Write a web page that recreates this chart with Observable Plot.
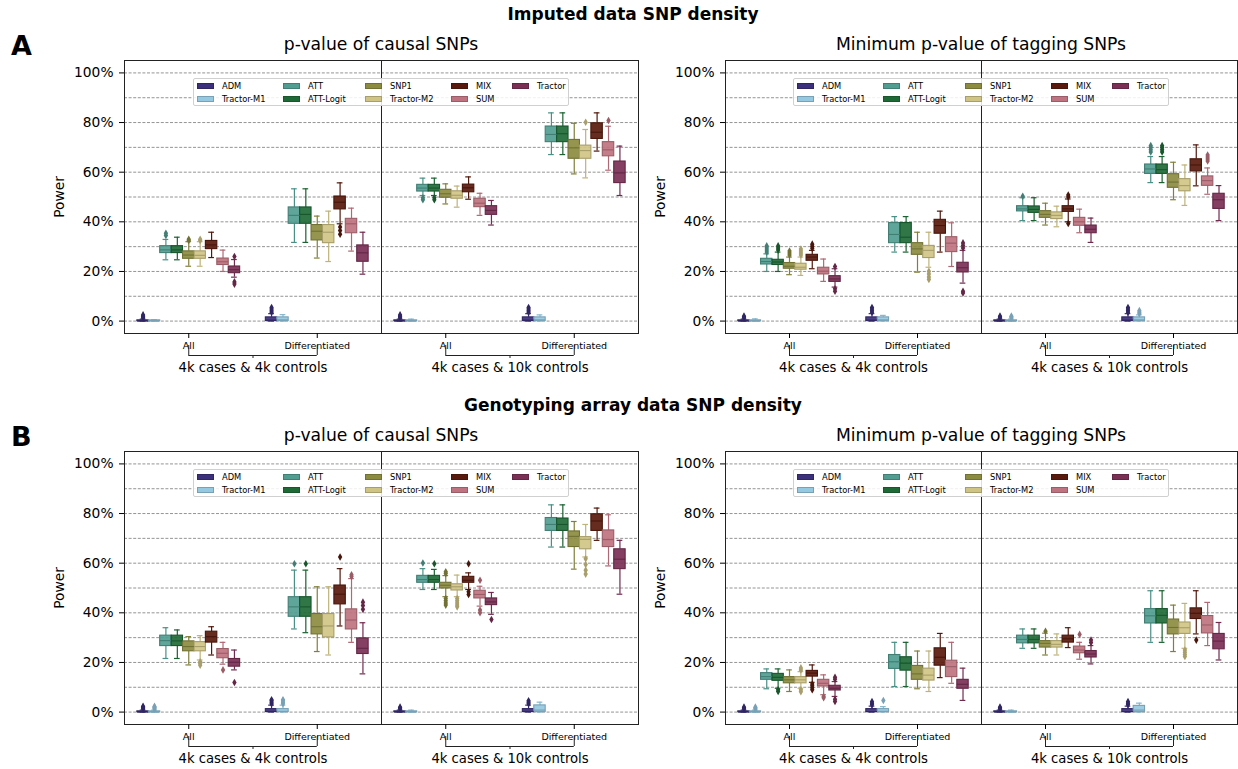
<!DOCTYPE html>
<html><head><meta charset="utf-8">
<script src="https://cdn.jsdelivr.net/npm/d3@7"></script>
<script src="https://cdn.jsdelivr.net/npm/@observablehq/plot@0.6"></script>
<style>
body{margin:0;background:#fff;font-family:"DejaVu Sans",sans-serif;color:#000;}
#root{position:relative;width:1238px;height:769px;overflow:hidden;background:#fff;}
.abs{position:absolute;white-space:nowrap;line-height:1;}
.sup{font-weight:bold;font-size:17px;transform:translate(-50%,-50%);}
.tag{font-weight:bold;font-size:27px;transform:translate(0,-50%);}
.ttl{font-size:17.2px;transform:translate(-50%,-50%);}
.leg{position:absolute;width:376px;height:28px;border:1px solid #d0d0d0;border-radius:2px;background:rgba(255,255,255,0.85);box-sizing:border-box;}
.leg .p{position:absolute;width:17px;height:6px;box-sizing:border-box;}
.leg .t{position:absolute;font-size:8.3px;line-height:1;transform:translateY(-50%);}
svg{position:absolute;overflow:visible;}
</style></head><body><div id="root"></div><script>
// ---------- data ----------
const methods = ["ADM","Tractor-M1","ATT","ATT-Logit","SNP1","Tractor-M2","MIX","SUM","Tractor"];
const baseColors = ["#332288","#88CCEE","#44AA99","#117733","#999933","#DDCC77","#661100","#CC6677","#882255"];
const groups = ["All","Differentiated"];
const sizes = ["4k cases & 4k controls","4k cases & 10k controls"];
const yTicks = [0,0.2,0.4,0.6,0.8,1.0];
const gridTicks = [0,0.1,0.2,0.3,0.4,0.5,0.6,0.7,0.8,0.9,1.0];
const sectionTitles = ["Imputed data SNP density","Genotyping array data SNP density"];
const panelTitles = ["p-value of causal SNPs","Minimum p-value of tagging SNPs"];
const tags = ["A","B"];
// each row: [whiskerLow, q1, median, q3, whiskerHigh, outliers] in %
// groups: 4k/4k All, 4k/4k Differentiated, 4k/10k All, 4k/10k Differentiated
const imputedCausal = [
 [[0,0,0,0.3,0.8,[1.2,1.6,2.0,2.5]],[0,0,0,0.3,0.6,[]],[24.7,27.4,28.7,30.2,32.9,[34.5,35.4]],[24.7,27.4,28.7,30.2,33.8,[]],[22.1,25.1,26.6,28.1,32.0,[32.5,33.0]],[22.1,25.1,26.5,28.1,32.0,[32.5,33.0]],[25.6,29.0,30.7,32.3,35.8,[]],[20.0,22.6,23.9,25.2,28.6,[]],[17.7,19.3,20.7,22.0,24.8,[26.0,15.8,14.9]]],
 [[0,0,0.4,1.5,3.0,[3.6,4.2,4.9,5.5]],[0,0,0.5,1.5,2.6,[]],[31.7,39.2,42.6,45.8,53.3,[]],[31.7,39.2,43.0,45.8,53.3,[]],[25.4,32.5,36.2,38.7,42.3,[]],[24.0,31.4,35.8,38.7,44.3,[]],[39.2,45.0,47.9,50.2,55.7,[37.9,36.5,35.0]],[28.2,35.4,39.2,41.2,45.5,[]],[18.9,23.9,27.5,30.5,35.8,[]]],
 [[0,0,0,0.3,0.8,[1.2,1.6,2.0,2.5]],[0,0,0,0.3,0.8,[]],[50.6,52.2,53.6,54.9,57.6,[49.7,48.9]],[50.6,52.2,53.6,54.9,57.6,[49.7,48.9]],[47.2,49.7,51.3,52.9,55.3,[]],[45.9,49.3,50.7,52.3,54.4,[]],[49.1,51.9,53.7,55.0,58.1,[]],[42.6,45.9,47.5,49.3,51.5,[]],[38.7,42.8,44.6,46.3,48.6,[]]],
 [[0,0,0.4,1.5,3.0,[3.6,4.2,4.9,5.5]],[0,0,0.5,1.5,2.5,[]],[67.1,72.1,75.2,78.4,83.9,[]],[67.1,72.1,75.5,78.4,83.9,[]],[59.3,65.4,69.8,73.0,79.7,[]],[57.7,65.4,68.7,70.7,77.2,[80.1]],[68.5,73.4,76.1,79.7,83.9,[]],[60.8,66.4,69.0,72.1,78.5,[80.8]],[50.6,55.6,59.7,64.3,70.5,[]]]
];
const imputedTagging = [
 [[0,0,0,0.3,0.8,[1.2,1.6,2.0]],[0,0,0,0.3,0.9,[]],[20.0,22.8,24.0,25.1,27.1,[27.8,28.6,29.5,30.3]],[20.0,22.6,23.8,24.7,27.8,[28.6,29.5,30.3]],[18.7,21.1,22.1,23.4,25.8,[26.6,27.4,28.2]],[18.4,20.7,21.7,23.1,25.8,[26.6,27.4,28.2,29.0]],[21.1,24.3,25.8,26.7,28.5,[29.3,30.2,31.0]],[16.0,18.8,20.1,21.5,25.0,[]],[13.7,15.8,17.0,18.1,21.1,[22.0,13.0,12.0]]],
 [[0,0,0.4,1.5,3.0,[3.6,4.2,4.9,5.5]],[0,0,0.5,1.5,2.3,[]],[27.8,31.4,34.9,39.5,42.1,[]],[27.8,31.4,33.8,39.5,42.1,[]],[19.7,26.7,29.1,31.4,35.8,[]],[21.7,25.4,28.5,30.3,35.8,[20.1,19.0,17.8,16.8]],[27.8,35.2,38.5,40.8,44.3,[]],[22.0,27.8,31.4,33.8,39.6,[]],[15.3,19.6,21.5,23.5,28.5,[29.5,30.5,31.5,12.0,11.3]]],
 [[0,0,0,0.3,0.8,[1.2,1.6,2.0]],[0,0,0,0.3,0.8,[1.2,1.6,2.0]],[40.5,44.2,45.2,46.3,49.7,[50.3]],[40.5,43.6,45.0,46.2,49.7,[]],[38.7,41.6,43.0,44.3,47.5,[]],[38.0,41.1,42.6,43.8,46.3,[]],[40.0,44.0,45.2,46.3,49.2,[50.0,50.8,39.3]],[35.6,38.4,40.0,41.6,45.1,[]],[31.7,35.4,37.0,38.5,41.5,[]]],
 [[0,0,0.4,1.5,3.0,[3.6,4.2,4.9,5.5]],[0,0,0.5,1.5,2.5,[3.0,3.6,4.2]],[55.8,59.3,61.3,63.1,66.3,[68.1,69.0,69.9,70.7]],[55.8,59.3,61.0,63.1,66.3,[68.1,69.0,69.9,70.7]],[48.9,53.7,56.0,59.2,64.0,[]],[46.6,52.3,54.6,57.2,62.9,[]],[54.5,60.3,62.9,65.2,71.0,[]],[51.1,54.5,56.6,58.3,61.7,[64.5,65.3,66.1,66.9]],[40.5,45.2,48.9,51.3,54.6,[]]]
];
const arrayCausal = [
 [[0,0,0,0.3,0.8,[1.2,1.6,2.0,2.3]],[0,0,0,0.3,0.8,[1.2,1.6,2.0,2.3]],[21.6,26.6,28.8,30.8,34.0,[]],[21.6,26.6,28.7,30.8,33.1,[]],[19.0,24.5,26.4,28.5,30.4,[]],[21.0,24.5,26.4,28.2,30.8,[20.3,19.6,18.9]],[23.0,28.0,30.4,32.4,34.4,[]],[19.3,21.7,23.7,25.4,28.1,[17.0]],[17.0,18.3,20.1,21.4,25.0,[11.9]]],
 [[0,0,0.3,1.2,2.8,[3.4,4.0,4.6,5.0]],[0,0,0.3,1.2,2.8,[3.4,4.0,4.6,5.0]],[33.5,38.4,42.4,46.3,57.2,[59.8]],[32.0,38.4,42.4,46.3,57.2,[59.8]],[24.4,31.3,34.4,39.5,50.5,[]],[23.0,30.1,34.7,39.5,50.5,[]],[34.7,43.4,47.5,51.0,57.8,[62.5]],[28.1,33.3,37.1,41.4,53.8,[54.6,55.3]],[15.4,23.4,25.7,29.7,36.0,[41.4,42.9,44.3]]],
 [[0,0,0,0.3,0.8,[1.2,1.6,2.0]],[0,0,0,0.3,0.8,[]],[49.4,52.1,53.4,54.9,57.8,[60.1]],[49.4,52.1,53.4,54.9,57.5,[59.8]],[46.5,49.8,51.1,52.1,55.0,[55.8,56.5,45.8,44.9,44.0,43.1]],[46.5,49.0,50.5,51.5,55.2,[45.8,44.9,44.0,43.1,42.4]],[49.4,52.1,53.1,54.5,56.1,[59.8,48.5,47.4]],[42.7,45.8,47.4,48.9,50.7,[53.1,41.1,40.0]],[39.4,43.1,44.4,45.8,48.2,[37.3]]],
 [[0,0,0.3,1.2,2.8,[3.4,4.0,4.6]],[0,0,0.8,2.7,4.0,[]],[66.5,73.0,75.6,78.2,83.5,[]],[66.5,73.0,75.6,78.0,83.5,[]],[57.6,66.5,70.8,72.8,76.8,[]],[62.5,65.6,69.6,70.5,75.6,[61.8,59.5,57.2,55.6]],[69.2,73.0,77.0,79.7,82.2,[]],[58.9,66.5,69.5,73.2,79.5,[]],[47.5,57.6,61.6,65.6,69.2,[]]]
];
const arrayTagging = [
 [[0,0,0,0.3,0.8,[1.2,1.6,2.0]],[0,0,0,0.3,0.8,[1.2,1.6,2.0]],[9.4,13.0,14.3,15.7,17.4,[]],[9.6,12.6,14.0,15.4,17.4,[9.0,8.3]],[8.3,11.6,13.0,14.1,17.0,[]],[9.6,11.6,13.0,14.1,16.3,[17.0,17.8,9.0,8.2]],[12.0,14.3,15.7,16.6,19.0,[11.3,10.6,9.8,9.0]],[7.0,10.3,11.6,13.0,15.0,[6.3,5.8]],[6.3,8.7,9.6,10.6,12.3,[13.2,14.0,5.2,4.3]]],
 [[0,0,0.2,1.2,2.4,[3.0,3.6,4.2]],[0,0,0.3,1.2,2.2,[4.7]],[10.3,17.4,20.3,23.0,28.1,[]],[10.3,16.7,19.7,22.1,28.1,[]],[9.4,13.0,15.4,18.6,24.6,[]],[8.3,12.7,14.9,17.5,24.6,[]],[13.9,18.7,22.1,25.7,31.7,[]],[11.6,14.1,18.3,20.7,28.1,[]],[4.7,9.4,11.2,13.0,17.7,[]]],
 [[0,0,0,0.3,0.8,[1.2,1.6,2.0]],[0,0,0,0.3,0.8,[]],[25.7,27.7,29.3,30.8,33.5,[]],[25.7,27.7,29.3,30.8,33.5,[]],[23.0,26.0,27.7,28.6,31.8,[32.6]],[23.0,26.0,27.3,28.6,31.5,[]],[26.0,28.0,29.5,30.8,34.0,[]],[21.3,23.7,25.0,26.4,28.1,[31.3]],[19.4,22.0,23.4,24.6,26.8,[28.0,29.0]]],
 [[0,0,0.2,1.2,2.4,[3.0,3.6,4.2]],[0,0,0.8,2.5,3.6,[]],[28.1,35.7,38.8,41.5,48.9,[]],[28.1,35.7,39.0,41.5,48.9,[]],[24.4,31.3,34.1,37.3,43.1,[]],[25.7,31.5,34.0,36.1,43.8,[25.0,24.1,23.2,22.4]],[31.5,37.5,39.8,41.8,48.9,[29.0]],[26.8,31.7,35.1,38.7,44.2,[]],[21.0,25.3,28.6,31.5,36.1,[]]]
];

// ---------- styling helpers ----------
const desat = c => { const h = d3.hsl(c); h.s *= 0.75; return h.formatHex(); };
const fills = baseColors.map(desat);
const edges = fills.map(c => d3.color(c).darker(0.6).formatHex());
const whisk = fills.map(c => d3.color(c).darker(0.25).formatHex());
const yDomain = [-0.05, 1.05];
const MT = 10, FH = 273, MB = 50, H = MT + FH + MB;
const slot = 0.8 / methods.length;

function flatten(panel) {
  const out = [];
  panel.forEach((grp, k) => {
    const size = sizes[Math.floor(k / 2)], gi = k % 2;
    grp.forEach((r, mi) => {
      const x1 = gi + 0.1 + mi * slot;
      out.push({size, gi, mi, x1, x2: x1 + slot, xc: x1 + slot / 2,
        wlo: r[0] / 100, q1: r[1] / 100, med: r[2] / 100, q3: r[3] / 100, whi: r[4] / 100,
        outs: r[5].map(v => v / 100)});
    });
  });
  return out;
}

function drawPanel(panel, left, top, width, mL, mR) {
  const B = flatten(panel);
  const O = B.flatMap(b => b.outs.map(v => ({...b, v})));
  const fxo = {fx: d => d};
  const svg = Plot.plot({
    width, height: H, marginLeft: mL, marginRight: mR, marginTop: MT, marginBottom: MB,
    style: {fontFamily: "DejaVu Sans, sans-serif", fontSize: "13.5px", color: "#000", background: "transparent", overflow: "visible"},
    x: {domain: [0, 2]},
    y: {domain: yDomain},
    fx: {domain: sizes, padding: 0, axis: null},
    color: {type: "identity"},
    marks: [
      Plot.gridY(gridTicks, {stroke: "#7a7a7a", strokeOpacity: 1, strokeWidth: 0.8, strokeDasharray: "3,1.6"}),
      Plot.ruleX(B, {fx: "size", x: "xc", y1: "wlo", y2: "q1", stroke: d => whisk[d.mi], strokeWidth: 1.2}),
      Plot.ruleX(B, {fx: "size", x: "xc", y1: "q3", y2: "whi", stroke: d => whisk[d.mi], strokeWidth: 1.2}),
      Plot.ruleY(B, {fx: "size", y: "wlo", x1: d => d.xc - slot / 4, x2: d => d.xc + slot / 4, stroke: d => whisk[d.mi], strokeWidth: 1.2}),
      Plot.ruleY(B, {fx: "size", y: "whi", x1: d => d.xc - slot / 4, x2: d => d.xc + slot / 4, stroke: d => whisk[d.mi], strokeWidth: 1.2}),
      Plot.rect(B, {fx: "size", x1: "x1", x2: "x2", y1: "q1", y2: "q3", fill: d => fills[d.mi], fillOpacity: 0.92, stroke: d => edges[d.mi], strokeWidth: 1.1}),
      Plot.ruleY(B, {fx: "size", y: "med", x1: "x1", x2: "x2", stroke: d => edges[d.mi], strokeWidth: 1.1}),
      Plot.dot(O, {fx: "size", x: "xc", y: "v", symbol: "diamond", r: 2.3, fill: d => edges[d.mi], stroke: "none"}),
      Plot.frame({stroke: "#222", strokeWidth: 1}),
      Plot.axisY({ticks: yTicks, tickFormat: d => Math.round(d * 100) + "%", tickSize: 5, tickPadding: 6, fontSize: 13.8,
        label: "Power", labelAnchor: "center", labelArrow: "none", labelOffset: 70, facetAnchor: "left"}),
      Plot.axisX({ticks: [0.5, 1.5], tickFormat: d => groups[Math.floor(d)], tickSize: 5, tickPadding: 4, fontSize: 9.5,
        label: null, facetAnchor: "bottom"}),
      Plot.ruleY(sizes, {...fxo, x1: () => 0.5, x2: () => 1.5, y: () => yDomain[0], dy: 22, stroke: "#222", strokeWidth: 1}),
      Plot.ruleX(sizes.flatMap(s => [0.5, 1.5].map(x => ({s, x}))), {fx: "s", x: "x", insetTop: FH + 12, insetBottom: -22, stroke: "#222", strokeWidth: 1}),
      Plot.ruleX(sizes, {...fxo, x: () => 1, insetTop: FH + 22, insetBottom: -25, stroke: "#222", strokeWidth: 1}),
      Plot.text(sizes, {...fxo, x: () => 1, text: d => d, frameAnchor: "bottom", dy: 34, lineAnchor: "middle", fontSize: 13.2})
    ]
  });
  svg.style.left = left + "px";
  svg.style.top = top + "px";
  root.appendChild(svg);

  // legend
  const leg = document.createElement("div");
  leg.className = "leg";
  leg.style.left = (left + mL + 69) + "px";
  leg.style.top = (top + MT + 18) + "px";
  const colX = [3, 89, 171, 257, 318];
  methods.forEach((m, i) => {
    const c = Math.floor(i / 2), r = i % 2;
    const p = document.createElement("div");
    p.className = "p";
    p.style.left = colX[c] + "px";
    p.style.top = (4 + r * 13) + "px";
    p.style.background = fills[i];
    p.style.border = "1px solid " + edges[i];
    leg.appendChild(p);
    const t = document.createElement("div");
    t.className = "t";
    t.textContent = m;
    t.style.left = (colX[c] + 25) + "px";
    t.style.top = (7 + r * 13) + "px";
    leg.appendChild(t);
  });
  root.appendChild(leg);
}

function addText(cls, text, x, y) {
  const d = document.createElement("div");
  d.className = "abs " + cls;
  d.textContent = text;
  d.style.left = x + "px";
  d.style.top = y + "px";
  root.appendChild(d);
}

const root = document.getElementById("root");
const rowTops = [50, 441];
const panelsByRow = [[imputedCausal, imputedTagging], [arrayCausal, arrayTagging]];
rowTops.forEach((top, r) => {
  addText("sup", sectionTitles[r], 633, top - 36);
  addText("tag", tags[r], 11, top - 5);
  addText("ttl", panelTitles[0], 381, top - 5);
  addText("ttl", panelTitles[1], 981, top - 5);
  drawPanel(panelsByRow[r][0], 0, top, 640, 124, 2);
  drawPanel(panelsByRow[r][1], 640, top, 598, 84, 1);
});
</script></body></html>
